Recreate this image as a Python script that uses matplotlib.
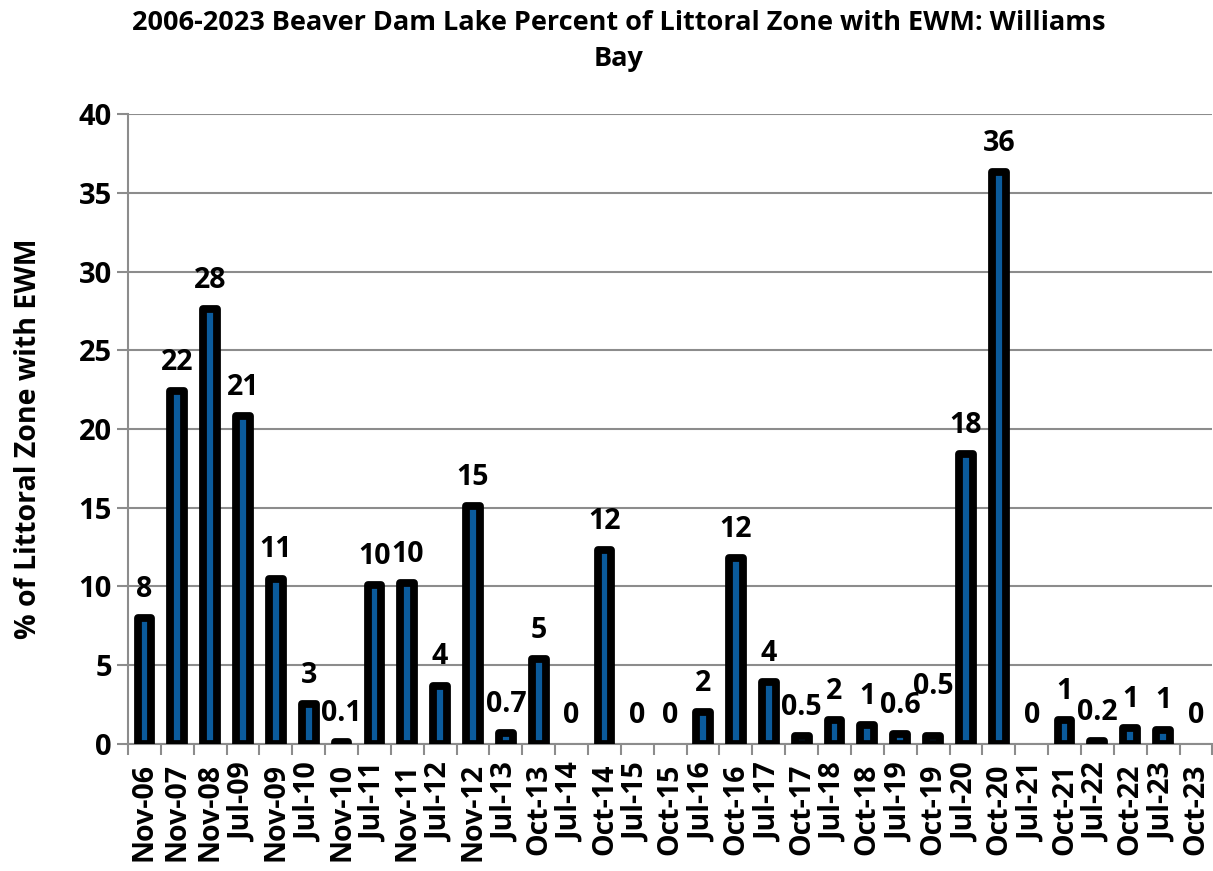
import matplotlib.pyplot as plt
import numpy as np

plt.rcParams["font.family"] = ["Open Sans", "DejaVu Sans"]
plt.rcParams["font.weight"] = "bold"

# survey dates and % of littoral zone with EWM
dates = ["Nov-06", "Nov-07", "Nov-08", "Jul-09", "Nov-09", "Jul-10", "Nov-10",
         "Jul-11", "Nov-11", "Jul-12", "Nov-12", "Jul-13", "Oct-13", "Jul-14",
         "Oct-14", "Jul-15", "Oct-15", "Jul-16", "Oct-16", "Jul-17", "Oct-17",
         "Jul-18", "Oct-18", "Jul-19", "Oct-19", "Jul-20", "Oct-20", "Jul-21",
         "Oct-21", "Jul-22", "Oct-22", "Jul-23", "Oct-23"]
pct = [8.0, 22.4, 27.6, 20.8, 10.5, 2.5, 0.1,
       10.1, 10.2, 3.7, 15.1, 0.7, 5.4, 0.0,
       12.3, 0.0, 0.0, 2.0, 11.8, 3.9, 0.5,
       1.5, 1.2, 0.6, 0.5, 18.4, 36.3, 0.0,
       1.5, 0.2, 1.0, 0.9, 0.0]
labels = ["8", "22", "28", "21", "11", "3", "0.1",
          "10", "10", "4", "15", "0.7", "5", "0",
          "12", "0", "0", "2", "12", "4", "0.5",
          "2", "1", "0.6", "0.5", "18", "36", "0",
          "1", "0.2", "1", "1", "0"]

fig = plt.figure(figsize=(12.13, 8.71), dpi=100)
ax = fig.add_axes([0.1055, 0.146, 0.894, 0.723])

x = np.arange(len(dates))
bars = ax.bar(x, pct, width=0.42, color="#0b5b9c", edgecolor="black",
              linewidth=5.6, zorder=3)
for b, v in zip(bars, pct):
    b.set_joinstyle("round")
    if v == 0:
        b.set_linewidth(0)

for xi, v, lab, d in zip(x, pct, labels, dates):
    dy = 0.9
    if d == "Oct-19":  # label lifted clear of its neighbour, as in the original
        dy += 1.3
    ax.text(xi, v + dy, lab, ha="center", va="bottom", fontsize=20.5,
            fontweight="bold", zorder=4)

ax.set_xlim(-0.5, len(dates) - 0.5)
ax.set_ylim(0, 40)
ax.set_yticks(range(0, 41, 5))
ax.yaxis.grid(True, color="#8c8c8c", linewidth=1.5, zorder=0)
ax.set_axisbelow(True)

ax.set_xticks(x)
ax.set_xticklabels(dates, rotation=90, fontsize=20.5, fontweight="bold")
ax.set_xticks(np.arange(-0.5, len(dates)), minor=True)
ax.tick_params(axis="x", which="major", length=0, pad=14)
ax.tick_params(axis="x", which="minor", length=8, width=1.5, color="#8c8c8c")
ax.tick_params(axis="y", length=8, width=1.5, color="#8c8c8c", labelsize=21)
for t in ax.get_yticklabels():
    t.set_fontweight("bold")

for s in ["top", "right"]:
    ax.spines[s].set_visible(False)
for s in ["left", "bottom"]:
    ax.spines[s].set_color("#8c8c8c")
    ax.spines[s].set_linewidth(1.5)

ax.set_ylabel("% of Littoral Zone with EWM", fontsize=20.5, fontweight="bold")
ax.yaxis.set_label_coords(-0.078, 0.485)
fig.suptitle("2006-2023 Beaver Dam Lake Percent of Littoral Zone with EWM: Williams\nBay",
             x=0.51, y=0.988, fontsize=19.5, fontweight="bold", linespacing=1.5)

fig.savefig("out.png", dpi=100)
